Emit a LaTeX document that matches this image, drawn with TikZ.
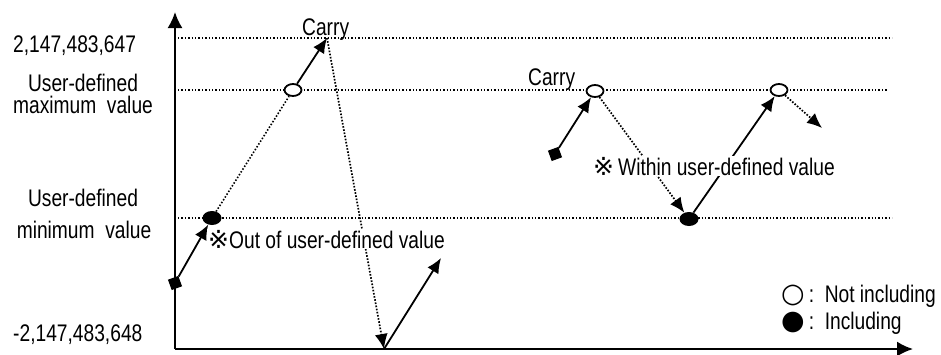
\documentclass[tikz,border=0pt]{standalone}
\usepackage{fontspec}
\setmainfont[FakeStretch=0.8]{Liberation Sans}
\newfontfamily\symfont{DejaVu Sans}
\usetikzlibrary{arrows.meta,shapes.geometric}
\begin{document}
\begin{tikzpicture}[x=1pt,y=-1pt,
  lbl/.style={font=\fontsize{24}{28}\selectfont, inner sep=0pt},
  guide/.style={line width=1.4pt, dash pattern=on 1.4pt off 2pt},
  axis/.style={line width=2pt, -{Latex[length=16pt,width=15pt]}},
  up/.style={line width=1.8pt, -{Latex[length=15pt,width=13pt]}},
  down/.style={line width=1.7pt, dash pattern=on 1.6pt off 1.6pt, -{Latex[length=15pt,width=13pt]}},
  link/.style={line width=1.6pt, dash pattern=on 1.5pt off 1.8pt},
  fpt/.style={ellipse, fill=black, minimum width=19pt, minimum height=14pt, inner sep=0pt},
  opt/.style={ellipse, draw, line width=1.8pt, fill=white, minimum width=17pt, minimum height=12pt, inner sep=0pt},
  spt/.style={rectangle, fill=black, minimum size=11pt, inner sep=0pt, rotate=20},
  sym/.style={font=\symfont\fontsize{27}{28}\selectfont},
]
\useasboundingbox (0,0) rectangle (941,354);
% axes
\coordinate (O) at (175,349);
\coordinate (Ytip) at (175,12);
\coordinate (Xtip) at (913,349);
\draw[axis] (O) -- (Ytip);
\draw[axis] (O) -- (Xtip);
% guide lines
\coordinate (t1) at (178,38);  \coordinate (t2) at (892,38);
\coordinate (m1) at (178,90);  \coordinate (m2) at (888,90);
\coordinate (n1) at (178,218); \coordinate (n2) at (892,218);
\draw[guide] (t1) -- (t2);
\draw[guide] (m1) -- (m2);
\draw[guide] (n1) -- (n2);
% points
\node[spt] (sqL) at (175,283) {};
\node[fpt] (fL) at (212,218) {};
\node[opt] (oL) at (293,90) {};
\coordinate (cTop) at (327,38);
\coordinate (bot) at (384,349);
\coordinate (endA) at (441,258);
\node[spt] (sqR) at (555,154) {};
\node[opt] (oR1) at (595,91) {};
\node[fpt] (fR) at (689,219) {};
\node[opt] (oR2) at (779,90) {};
\coordinate (endB) at (822,128);
% connectors
\draw[up] (sqL) -- (fL);
\draw[link] (fL) -- (oL);
\draw[up] (oL) -- (cTop);
\draw[down] (cTop) -- (bot);
\draw[up] (bot) -- (endA);
\draw[up] (sqR) -- (oR1);
\draw[down] (oR1) -- (fR);
\draw[up] (fR) -- (oR2);
\draw[down] (oR2) -- (endB);
% labels
\node[lbl, anchor=base west] (v1) at (13,52) {2,147,483,647};
\node[lbl, anchor=base] (mx1) at (83,91) {User-defined};
\node[lbl, anchor=base] (mx2) at (83,113) {maximum\ \ value};
\node[lbl, anchor=base] (mn1) at (83,206) {User-defined};
\node[lbl, anchor=base] (mn2) at (84,238) {minimum\ \ value};
\node[lbl, anchor=base west] (v2) at (13,341) {-2,147,483,648};
\node[lbl, anchor=base west] (c1) at (302,35) {Carry};
\node[lbl, anchor=base west] (c2) at (528,85) {Carry};
\node[lbl, anchor=base west, fill=white, inner sep=1pt] (out) at (207,248) {{\symfont\fontsize{25}{28}\selectfont ※}Out of user-defined value};
\node[lbl, anchor=base west, fill=white, inner sep=1pt] (within) at (592,175) {{\symfont\fontsize{25}{28}\selectfont ※}\,Within user-defined value};
\node[lbl, anchor=base west] (lg1) at (781,302) {{\symfont\fontsize{27}{28}\selectfont ○}\,:\ \ Not including};
\node[lbl, anchor=base west] (lg2) at (781,329) {{\symfont\fontsize{27}{28}\selectfont ●}\,:\ \ Including};
\end{tikzpicture}
\end{document}
